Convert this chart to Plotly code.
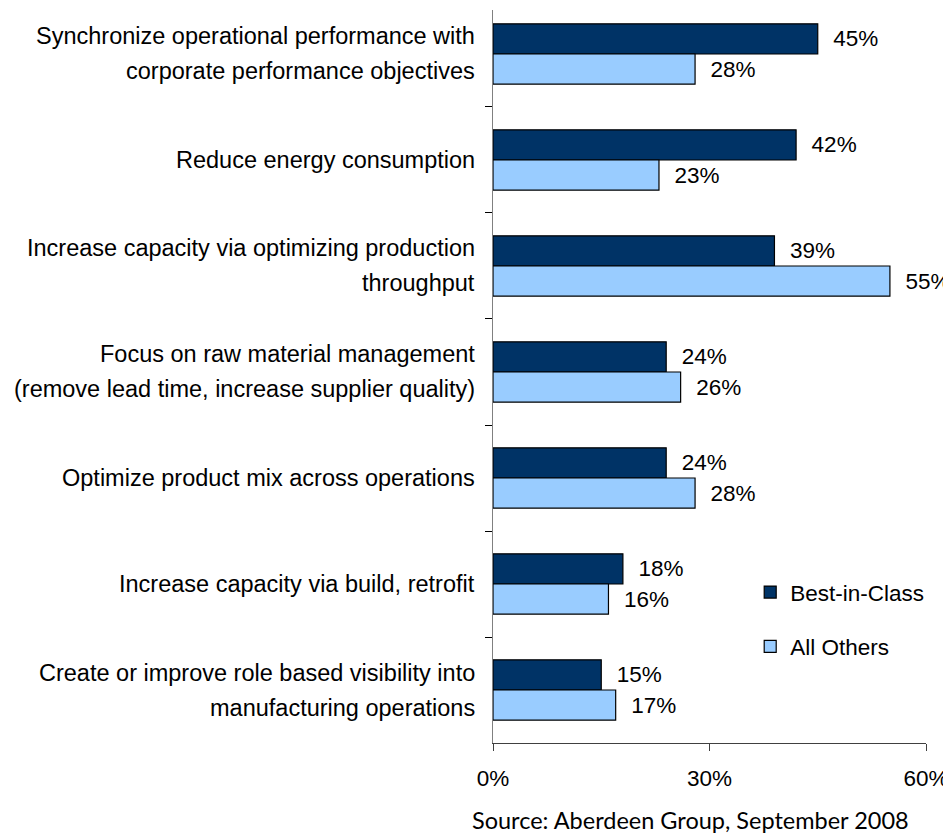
import plotly.graph_objects as go

categories = [
    "Synchronize operational performance with\ncorporate performance objectives",
    "Reduce energy consumption",
    "Increase capacity via optimizing production\nthroughput",
    "Focus on raw material management\n(remove lead time, increase supplier quality)",
    "Optimize product mix across operations",
    "Increase capacity via build, retrofit",
    "Create or improve role based visibility into\nmanufacturing operations",
]
best_in_class = [45, 42, 39, 24, 24, 18, 15]
all_others = [28, 23, 55, 26, 28, 16, 17]
series_names = ["Best-in-Class", "All Others"]
x_ticks = [0, 30, 60]
x_tick_labels = ["0%", "30%", "60%"]
source_text = "Source: Aberdeen Group, September 2008"

FONT = "Liberation Sans, Arial, sans-serif"
ycats = [c.replace("\n", " ") for c in categories]

fig = go.Figure()
for name, vals, color, grp in [
    (series_names[0], best_in_class, "#003366", "a"),
    (series_names[1], all_others, "#99CCFF", "b"),
]:
    fig.add_trace(go.Bar(
        y=ycats, x=vals, name=name, orientation="h",
        marker=dict(color=color, line=dict(color="#000000", width=1.2)),
        text=[f"{v}%" for v in vals], texttemplate="\u00a0\u00a0%{text}",
        textposition="outside",
        textfont=dict(family=FONT, size=22.5, color="#000000"),
        constraintext="none", cliponaxis=False, legendgroup=grp,
    ))

# category labels (centered multi-line, placed on the category axis)
for cat, yc in zip(categories, ycats):
    lines = cat.split("\n")
    n = len(lines)
    for i, ln in enumerate(lines):
        fig.add_annotation(
            x=0, xref="paper", y=yc, yref="y", text=ln, showarrow=False,
            xanchor="right", yanchor="middle", xshift=-16,
            yshift=-(i - (n - 1) / 2) * 35,
            font=dict(family=FONT, size=23.5, color="#000000"),
        )

fig.add_annotation(
    x=0.457, xref="paper", y=-0.105, yref="paper", text=source_text,
    showarrow=False, xanchor="center", yanchor="middle",
    font=dict(family="Lato, sans-serif", size=23.5, color="#000000"),
)

fig.update_layout(
    width=943, height=825,
    margin=dict(l=485, r=25, t=2, b=90),
    paper_bgcolor="white", plot_bgcolor="white",
    barmode="group", bargap=0.43, bargroupgap=0,
    font=dict(family=FONT, size=22, color="#000000"),
    legend=dict(
        x=0.594, y=0.2347, xanchor="left", yanchor="top",
        font=dict(family=FONT, size=22.5, color="#000000"),
        traceorder="grouped", tracegroupgap=22, bgcolor="rgba(0,0,0,0)",
    ),
    xaxis=dict(
        range=[0, 60], tickvals=x_ticks, ticktext=x_tick_labels,
        showgrid=False, zeroline=False, showline=True, linecolor="#404040",
        linewidth=1, ticks="outside", ticklen=7, tickcolor="#404040",
        tickfont=dict(family=FONT, size=22.5, color="#000000"),
        ticklabelstandoff=8,
    ),
    yaxis=dict(
        range=[6.5, -0.415], showgrid=False, zeroline=False,
        showline=True, linecolor="#808080", linewidth=1,
        ticks="outside", tickson="boundaries", ticklen=7, tickcolor="#000000",
        showticklabels=False,
    ),
)

fig.write_html("out.html")
